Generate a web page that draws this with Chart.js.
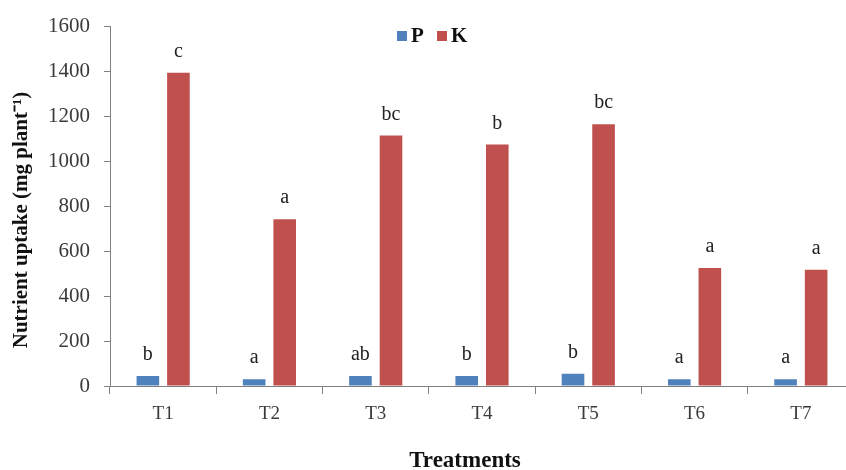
<!DOCTYPE html>
<html>
<head>
<meta charset="utf-8">
<script src="https://cdn.jsdelivr.net/npm/chart.js@4.4.1/dist/chart.umd.min.js"></script>
<style>
html,body{margin:0;padding:0;background:#fff;overflow:hidden;width:846px;height:470px;}
#wrap{width:860px;height:470px;position:relative;}
</style>
</head>
<body>
<div id="wrap"><canvas id="c" width="860" height="470"></canvas></div>
<script>
const categories = ['T1','T2','T3','T4','T5','T6','T7'];
const seriesNames = ['P','K'];
const pValues = [45, 30, 45, 45, 54, 30, 30];
const kValues = [1395, 742, 1115, 1075, 1165, 525, 517];
const pLetters = ['b','a','ab','b','b','a','a'];
const kLetters = ['c','a','bc','b','bc','a','a'];
const yTicks = [0,200,400,600,800,1000,1200,1400,1600];
const xTitle = 'Treatments';
const yTitle = 'Nutrient uptake (mg plant\u207B\u00B9)';

const serif = "'Liberation Serif', 'Times New Roman', serif";

const letterPlugin = {
  id: 'letters',
  afterDatasetsDraw(chart) {
    const ctx = chart.ctx;
    const sets = [pLetters, kLetters];
    ctx.save();
    ctx.font = '20px ' + serif;
    ctx.fillStyle = '#222';
    ctx.textAlign = 'center';
    ctx.textBaseline = 'alphabetic';
    sets.forEach((letters, di) => {
      const meta = chart.getDatasetMeta(di);
      meta.data.forEach((bar, i) => {
        ctx.fillText(letters[i], bar.x, bar.y - 16);
      });
    });
    ctx.restore();
  }
};

const titlesPlugin = {
  id: 'titles',
  afterDraw(chart) {
    const ctx = chart.ctx;
    ctx.save();
    ctx.fillStyle = '#111';
    ctx.textAlign = 'center';
    ctx.textBaseline = 'middle';
    ctx.font = 'bold 23px ' + serif;
    ctx.fillText(xTitle, 465, 461);
    ctx.translate(22, 220);
    ctx.rotate(-Math.PI / 2);
    ctx.font = 'bold 21px ' + serif;
    ctx.fillText(yTitle, 0, 0);
    ctx.restore();
  }
};

const legendPlugin = {
  id: 'customLegend',
  afterDraw(chart) {
    const ctx = chart.ctx;
    ctx.save();
    ctx.font = 'bold 21px ' + serif;
    ctx.textBaseline = 'middle';
    ctx.textAlign = 'left';
    const y = 36;
    let x = 397;
    chart.data.datasets.forEach((ds, i) => {
      ctx.fillStyle = ds.backgroundColor;
      ctx.fillRect(x, y - 5, 10, 10);
      ctx.fillStyle = '#111';
      ctx.fillText(ds.label, x + 14, y + 1);
      x += 40;
    });
    ctx.restore();
  }
};

new Chart(document.getElementById('c'), {
  type: 'bar',
  data: {
    labels: categories,
    datasets: [
      { label: seriesNames[0], data: pValues, backgroundColor: '#4F81BD', categoryPercentage: 0.575, barPercentage: 0.74 },
      { label: seriesNames[1], data: kValues, backgroundColor: '#C0504D', categoryPercentage: 0.575, barPercentage: 0.74 }
    ]
  },
  options: {
    responsive: false,
    animation: false,
    layout: { padding: { left: 0, right: 6, top: 24, bottom: 0 } },
    plugins: { legend: { display: false }, tooltip: { enabled: false } },
    scales: {
      x: {
        grid: { display: true, drawOnChartArea: false, offset: true, color: '#808080', tickLength: 8, lineWidth: 1 },
        border: { display: true, color: '#808080', width: 1 },
        ticks: { color: '#3a3a3a', font: { family: serif, size: 19 }, padding: 9 },
        title: { display: false },
        afterFit(s) { s.height = 84; }
      },
      y: {
        min: 0, max: 1600,
        afterBuildTicks(s) { s.ticks = yTicks.map(v => ({ value: v })); },
        grid: { display: true, drawOnChartArea: false, color: '#808080', tickLength: 6 },
        border: { display: true, color: '#808080', width: 1 },
        ticks: { color: '#3a3a3a', font: { family: serif, size: 21 }, padding: 14, callback: (v) => String(v) },
        title: { display: false },
        afterFit(s) { s.width = 110; }
      }
    }
  },
  plugins: [letterPlugin, titlesPlugin, legendPlugin]
});
</script>
</body>
</html>
